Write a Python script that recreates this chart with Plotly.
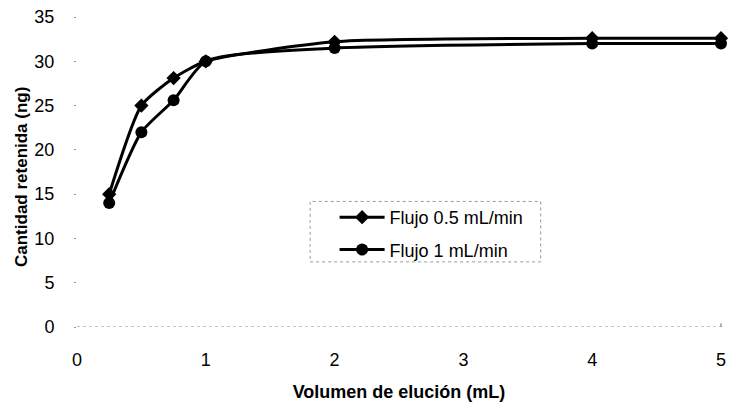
import plotly.graph_objects as go

# Elution volume (mL)
volumen = [0.25, 0.5, 0.75, 1, 2, 4, 5]
# Retained amount (ng) for each flow rate
flujo_05 = [15, 25, 28.1, 30, 32.2, 32.6, 32.6]
flujo_1 = [14, 22, 25.6, 30, 31.5, 32, 32]

x_ticks = [0, 1, 2, 3, 4, 5]
y_ticks = [0, 5, 10, 15, 20, 25, 30, 35]

fig = go.Figure()
fig.add_trace(go.Scatter(
    x=volumen, y=flujo_05, name="Flujo 0.5 mL/min", legendgroup="a",
    mode="lines+markers", line=dict(color="black", width=3, shape="spline", smoothing=0.6),
    marker=dict(symbol="diamond", size=11, color="black"), cliponaxis=False,
))
fig.add_trace(go.Scatter(
    x=volumen, y=flujo_1, name="Flujo 1 mL/min", legendgroup="b",
    mode="lines+markers", line=dict(color="black", width=3, shape="spline", smoothing=0.6),
    marker=dict(symbol="circle", size=12, color="black"), cliponaxis=False,
))

font_family = "Liberation Sans, Arial, sans-serif"

fig.update_layout(
    width=731, height=405,
    margin=dict(l=77, r=10, t=17, b=78, autoexpand=False),
    paper_bgcolor="white", plot_bgcolor="white",
    font=dict(family=font_family, color="black"),
    showlegend=True,
    legend=dict(
        x=0.40, y=0.413, xanchor="left", yanchor="top",
        bgcolor="rgba(0,0,0,0)", font=dict(size=18, family=font_family),
        tracegroupgap=6, itemwidth=45,
    ),
    xaxis=dict(
        range=[0, 5], tickvals=x_ticks, showgrid=False, zeroline=False, automargin=False,
        showline=False, ticks="", tickfont=dict(size=18), ticklabelstandoff=20,
        title=dict(text="<b>Volumen de elución (mL)</b>", font=dict(size=18), standoff=16),
    ),
    yaxis=dict(
        range=[0, 35], tickvals=y_ticks, showgrid=False, zeroline=False, automargin=False,
        showline=False, ticks="outside", ticklen=2, tickcolor="#999",
        tickfont=dict(size=18), ticklabelstandoff=16,
    ),
    annotations=[dict(
        text="<b>Cantidad retenida (ng)</b>", textangle=-90,
        xref="paper", yref="paper", x=0, y=0.5, xanchor="center", yanchor="middle",
        xshift=-56, yshift=-5, showarrow=False, font=dict(size=17),
    )],
)

# Dotted baseline along y = 0 and small end tick
fig.add_shape(type="line", xref="paper", yref="y", x0=0, x1=1, y0=0, y1=0,
              line=dict(color="#888", width=1, dash="dot"))
fig.add_shape(type="line", xref="paper", yref="y", x0=1, x1=1, y0=-0.4, y1=0.4,
              line=dict(color="#666", width=1))

# Dotted frame around the legend
fig.add_shape(type="rect", xref="paper", yref="paper", x0=0.362, x1=0.72, y0=0.21, y1=0.405,
              line=dict(color="#999", width=1, dash="dot"))

fig.write_html("out.html")
